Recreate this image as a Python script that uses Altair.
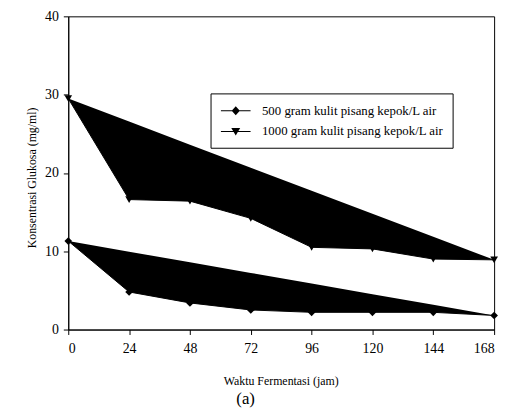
import altair as alt
import pandas as pd

hours = [0, 24, 48, 72, 96, 120, 144, 168]
glukosa_500 = [11.3, 4.8, 3.4, 2.5, 2.2, 2.2, 2.2, 1.8]
glukosa_1000 = [29.5, 16.6, 16.4, 14.2, 10.5, 10.3, 9.0, 8.9]
series_names = ["500 gram kulit pisang kepok/L air", "1000 gram kulit pisang kepok/L air"]
x_ticks = [0, 24, 48, 72, 96, 120, 144, 168]
y_ticks = [0, 10, 20, 30, 40]

rows = []
for name, vals in zip(series_names, [glukosa_500, glukosa_1000]):
    y0, yn = vals[0], vals[-1]
    for h, v in zip(hours, vals):
        rows.append({"jam": h, "nilai": v, "seri": name,
                     "chord": y0 + (yn - y0) * h / hours[-1]})
df = pd.DataFrame(rows)

FONT = "Liberation Serif, Times New Roman, serif"

x_enc = alt.X("jam:Q", scale=alt.Scale(domain=[0, 168], nice=False),
              axis=alt.Axis(values=x_ticks, title="Waktu Fermentasi (jam)",
                            titleX=215, titleY=52, titleBaseline="middle",
                            titleFont=FONT, labelFont=FONT, labelPadding=7))
y_enc = alt.Y("nilai:Q", scale=alt.Scale(domain=[0, 40], nice=False),
              axis=alt.Axis(values=y_ticks, title="Konsentrasi Glukosa (mg/ml)",
                            titleX=-37, titleY=163, titleBaseline="middle",
                            titleFont=FONT, labelFont=FONT,
                            titleAngle=-90, labelPadding=5))

base = alt.Chart(df)

area = base.mark_area(color="black", opacity=1).encode(
    x=x_enc, y=y_enc, y2="chord:Q", detail="seri:N")

line = base.mark_line(color="black", strokeWidth=1).encode(
    x=x_enc, y=y_enc, detail="seri:N")

points = base.mark_point(filled=True, color="black", opacity=1, size=60).encode(
    x=x_enc, y=y_enc,
    shape=alt.Shape("seri:N", scale=alt.Scale(domain=series_names,
                                              range=["diamond", "triangle-down"]),
                    legend=None))

# legend glyphs: a thin bar (line) plus the marker, drawn as one filled path
leg_paths = ["M-2,-0.07H2V0.07H-2ZM0,-0.6L0.55,0L0,0.6L-0.55,0Z",
             "M-2,-0.07H2V0.07H-2ZM-0.6,-0.45L0.6,-0.45L0,0.55Z"]
legend_layer = base.mark_point(filled=True, color="black", opacity=1, size=225).encode(
    x=x_enc, y=y_enc,
    shape=alt.Shape("seri:N", scale=alt.Scale(domain=series_names, range=leg_paths),
                    legend=alt.Legend(title=None, orient="none", legendX=144, legendY=78,
                                      labelFont=FONT, labelFontSize=13, labelColor="black",
                                      labelLimit=400, strokeColor="black", fillColor="white",
                                      padding=9, rowPadding=5, symbolSize=225,
                                      symbolOffset=8, labelOffset=18,
                                      symbolFillColor="black"))
).transform_filter("false")

chart = alt.layer(area, line, points, legend_layer).resolve_scale(
    shape="independent"
).properties(
    width=431, height=317,
    autosize=alt.AutoSizeParams(type="none"),
    padding={"left": 61, "top": 6, "right": 10, "bottom": 80},
    title=alt.TitleParams("(a)", orient="bottom", anchor="middle", dx=-36,
                          fontSize=17, font=FONT, fontWeight="normal", offset=4,
                          color="black"),
).configure(
    font=FONT
).configure_view(
    stroke="black", strokeWidth=1
).configure_axis(
    grid=False, domainColor="black", tickColor="black", tickSize=5,
    labelFont=FONT, labelFontSize=14, labelColor="black",
    titleFont=FONT, titleFontSize=12, titleFontWeight="normal", titleColor="black"
).configure_legend(
    labelFont=FONT
)

chart.save("out.html", embed_options={"renderer": "svg", "actions": False})
